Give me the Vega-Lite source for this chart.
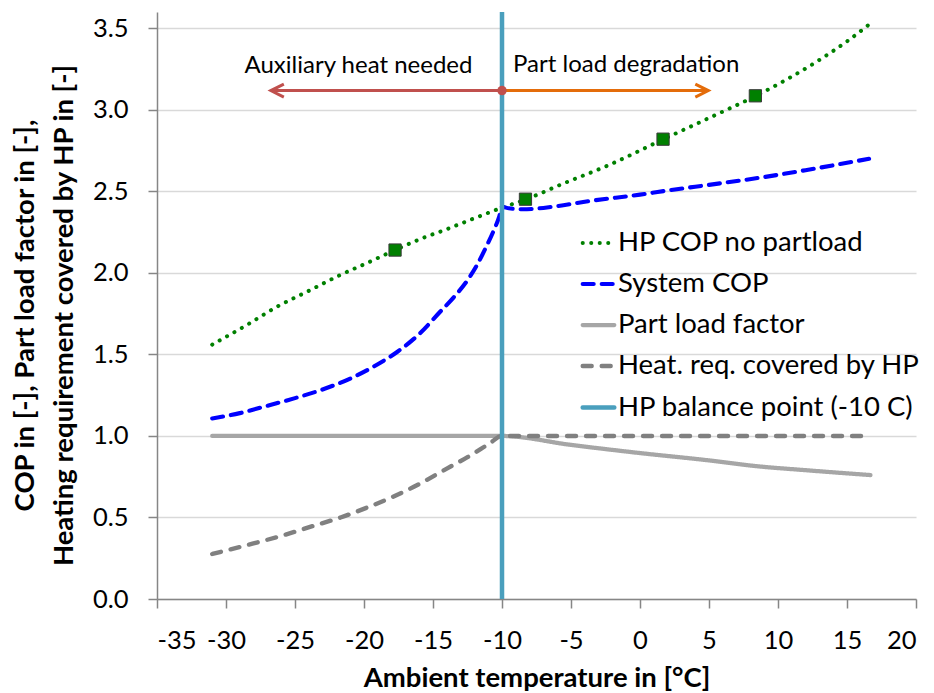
{
  "$schema": "https://vega.github.io/schema/vega-lite/v6.json",
  "width": 759,
  "height": 587,
  "autosize": {"type": "none"},
  "padding": {"left": 157, "top": 12, "right": 18, "bottom": 94},
  "background": "white",
  "config": {
    "view": {"stroke": null},
    "font": "Lato",
    "axis": {
      "domainColor": "#868686",
      "domainWidth": 1.5,
      "tickColor": "#868686",
      "tickWidth": 1.5,
      "tickSize": 9,
      "labelFont": "Lato",
      "labelFontSize": 25.5,
      "labelColor": "#000000",
      "labelPadding": 20,
      "titleFont": "Lato",
      "titleFontSize": 27.5,
      "titleFontWeight": "bold",
      "titleColor": "#000000"
    }
  },
  "datasets": {
    "curves": [
      {"series": "HP COP no partload", "t": -31, "v": 1.56},
      {"series": "HP COP no partload", "t": -28.5, "v": 1.68},
      {"series": "HP COP no partload", "t": -26.25, "v": 1.795},
      {"series": "HP COP no partload", "t": -24, "v": 1.89},
      {"series": "HP COP no partload", "t": -21.9, "v": 1.98},
      {"series": "HP COP no partload", "t": -19.8, "v": 2.06},
      {"series": "HP COP no partload", "t": -17.75, "v": 2.14},
      {"series": "HP COP no partload", "t": -16, "v": 2.205},
      {"series": "HP COP no partload", "t": -14.1, "v": 2.265},
      {"series": "HP COP no partload", "t": -12, "v": 2.335},
      {"series": "HP COP no partload", "t": -10, "v": 2.4},
      {"series": "HP COP no partload", "t": -8.3, "v": 2.45},
      {"series": "HP COP no partload", "t": -5.5, "v": 2.55},
      {"series": "HP COP no partload", "t": -2.4, "v": 2.656},
      {"series": "HP COP no partload", "t": 1.7, "v": 2.82},
      {"series": "HP COP no partload", "t": 5, "v": 2.95},
      {"series": "HP COP no partload", "t": 8.4, "v": 3.086},
      {"series": "HP COP no partload", "t": 10.5, "v": 3.18},
      {"series": "HP COP no partload", "t": 12.7, "v": 3.29},
      {"series": "HP COP no partload", "t": 15, "v": 3.42},
      {"series": "HP COP no partload", "t": 16.7, "v": 3.53},

      {"series": "System COP", "t": -31, "v": 1.107},
      {"series": "System COP", "t": -29, "v": 1.14},
      {"series": "System COP", "t": -27, "v": 1.185},
      {"series": "System COP", "t": -25, "v": 1.232},
      {"series": "System COP", "t": -23, "v": 1.285},
      {"series": "System COP", "t": -21, "v": 1.352},
      {"series": "System COP", "t": -19, "v": 1.44},
      {"series": "System COP", "t": -17.6, "v": 1.515},
      {"series": "System COP", "t": -16, "v": 1.625},
      {"series": "System COP", "t": -14.5, "v": 1.76},
      {"series": "System COP", "t": -13.5, "v": 1.85},
      {"series": "System COP", "t": -12.5, "v": 1.955},
      {"series": "System COP", "t": -11.8, "v": 2.05},
      {"series": "System COP", "t": -11.2, "v": 2.15},
      {"series": "System COP", "t": -10.6, "v": 2.26},
      {"series": "System COP", "t": -10.2, "v": 2.345},
      {"series": "System COP", "t": -10, "v": 2.405},
      {"series": "System COP", "t": -9.5, "v": 2.396},
      {"series": "System COP", "t": -8.5, "v": 2.39},
      {"series": "System COP", "t": -6.3, "v": 2.406},
      {"series": "System COP", "t": -3.7, "v": 2.44},
      {"series": "System COP", "t": 0, "v": 2.48},
      {"series": "System COP", "t": 2.4, "v": 2.51},
      {"series": "System COP", "t": 5, "v": 2.54},
      {"series": "System COP", "t": 8.4, "v": 2.58},
      {"series": "System COP", "t": 12, "v": 2.63},
      {"series": "System COP", "t": 16.6, "v": 2.7},

      {"series": "Part load factor", "t": -31, "v": 1.0},
      {"series": "Part load factor", "t": -10, "v": 1.0},
      {"series": "Part load factor", "t": -5, "v": 0.945},
      {"series": "Part load factor", "t": 0, "v": 0.895},
      {"series": "Part load factor", "t": 5, "v": 0.85},
      {"series": "Part load factor", "t": 8.4, "v": 0.815},
      {"series": "Part load factor", "t": 12, "v": 0.79},
      {"series": "Part load factor", "t": 16.7, "v": 0.76},

      {"series": "Heat. req. covered by HP", "t": -31, "v": 0.276},
      {"series": "Heat. req. covered by HP", "t": -28.5, "v": 0.33},
      {"series": "Heat. req. covered by HP", "t": -25.8, "v": 0.392},
      {"series": "Heat. req. covered by HP", "t": -23.8, "v": 0.445},
      {"series": "Heat. req. covered by HP", "t": -21.7, "v": 0.5},
      {"series": "Heat. req. covered by HP", "t": -19.8, "v": 0.56},
      {"series": "Heat. req. covered by HP", "t": -17.9, "v": 0.627},
      {"series": "Heat. req. covered by HP", "t": -16, "v": 0.705},
      {"series": "Heat. req. covered by HP", "t": -14, "v": 0.8},
      {"series": "Heat. req. covered by HP", "t": -12.5, "v": 0.87},
      {"series": "Heat. req. covered by HP", "t": -10.9, "v": 0.954},
      {"series": "Heat. req. covered by HP", "t": -10, "v": 1.0},
      {"series": "Heat. req. covered by HP", "t": 16.7, "v": 1.0}
    ],
    "balance": [
      {"series": "HP balance point (-10 C)", "t": -10, "v": 0},
      {"series": "HP balance point (-10 C)", "t": -10, "v": 3.6}
    ],
    "markers": [
      {"t": -17.75, "v": 2.14},
      {"t": -8.3, "v": 2.452},
      {"t": 1.67, "v": 2.82},
      {"t": 8.36, "v": 3.086}
    ],
    "arrows": [
      {"side": "left", "t": -10, "t2": -26.75, "v": 3.118},
      {"side": "right", "t": -10, "t2": 4.95, "v": 3.118}
    ],
    "notes": [
      {"label": "Auxiliary heat needed", "t": -20.4, "v": 3.227},
      {"label": "Part load degradation", "t": -1.0, "v": 3.235}
    ]
  },
  "layer": [
    {
      "data": {"name": "curves"},
      "mark": {"type": "line", "interpolate": "monotone", "strokeCap": "round", "strokeJoin": "round"},
      "encoding": {
        "x": {
          "field": "t", "type": "quantitative",
          "scale": {"domain": [-35, 20], "nice": false, "zero": false},
          "axis": {
            "title": "Ambient temperature in [°C]",
            "values": [-35, -30, -25, -20, -15, -10, -5, 0, 5, 10, 15, 20],
            "labelExpr": "replace(datum.label, '\u2212', '-')",
            "grid": false,
            "titleBaseline": "alphabetic",
            "titleY": 87
          }
        },
        "y": {
          "field": "v", "type": "quantitative",
          "scale": {"domain": [0, 3.6], "nice": false},
          "axis": {
            "title": ["COP in [-], Part load factor in [-],", "Heating requirement covered by HP in [-]"],
            "values": [0, 0.5, 1, 1.5, 2, 2.5, 3, 3.5],
            "format": ".1f",
            "grid": true,
            "gridColor": "#d9d9d9",
            "gridWidth": 1.3,
            "titleAngle": 270,
            "titleAlign": "center",
            "titleBaseline": "top",
            "titleLineHeight": 39,
            "titleX": -146,
            "titleY": 303
          }
        },
        "color": {
          "field": "series", "type": "nominal",
          "scale": {
            "domain": ["HP COP no partload", "System COP", "Part load factor", "Heat. req. covered by HP", "HP balance point (-10 C)"],
            "range": ["#008000", "#0000ff", "#a6a6a6", "#808080", "#4a9fbd"]
          },
          "legend": {
            "orient": "none",
            "legendX": 423,
            "legendY": 213,
            "title": null,
            "symbolType": "stroke",
            "symbolSize": 1000,
            "labelFont": "Lato",
            "labelFontSize": 27.5,
            "labelColor": "#000000",
            "labelOffset": 1,
            "labelLimit": 0,
            "rowPadding": 9,
            "padding": 0,
            "encode": {"symbols": {"update": {"strokeCap": {"value": "round"}}}}
          }
        },
        "strokeDash": {
          "field": "series", "type": "nominal",
          "scale": {
            "domain": ["HP COP no partload", "System COP", "Part load factor", "Heat. req. covered by HP", "HP balance point (-10 C)"],
            "range": [[0.1, 8.4], [11, 8], [1, 0], [9, 10], [1, 0]]
          }
        },
        "strokeWidth": {
          "field": "series", "type": "nominal",
          "scale": {
            "domain": ["HP COP no partload", "System COP", "Part load factor", "Heat. req. covered by HP", "HP balance point (-10 C)"],
            "range": [4, 4.5, 4.5, 4.5, 3]
          }
        }
      }
    },
    {
      "data": {"name": "markers"},
      "mark": {"type": "point", "shape": "square", "size": 150, "filled": true, "fill": "#008000", "stroke": "#3a3a3a", "strokeWidth": 1, "opacity": 1},
      "encoding": {
        "x": {"field": "t", "type": "quantitative"},
        "y": {"field": "v", "type": "quantitative"}
      }
    },
    {
      "data": {"name": "balance"},
      "mark": {"type": "line", "strokeCap": "butt"},
      "encoding": {
        "x": {"field": "t", "type": "quantitative"},
        "y": {"field": "v", "type": "quantitative"},
        "color": {"field": "series", "type": "nominal"},
        "strokeDash": {"field": "series", "type": "nominal"},
        "strokeWidth": {"field": "series", "type": "nominal"}
      }
    },
    {
      "data": {"name": "arrows"},
      "transform": [{"filter": "datum.side === 'left'"}],
      "layer": [
        {
          "mark": {"type": "rule", "color": "#c0504d", "strokeWidth": 3},
          "encoding": {
            "x": {"field": "t", "type": "quantitative"},
            "x2": {"field": "t2"},
            "y": {"field": "v", "type": "quantitative"}
          }
        },
        {
          "mark": {"type": "point", "shape": "M2,-1L0,0L2,1", "size": 169, "filled": false, "stroke": "#c0504d", "strokeWidth": 3, "opacity": 1},
          "encoding": {
            "x": {"field": "t2", "type": "quantitative"},
            "y": {"field": "v", "type": "quantitative"}
          }
        }
      ]
    },
    {
      "data": {"name": "arrows"},
      "transform": [{"filter": "datum.side === 'right'"}],
      "layer": [
        {
          "mark": {"type": "rule", "color": "#e46c0a", "strokeWidth": 3},
          "encoding": {
            "x": {"field": "t", "type": "quantitative"},
            "x2": {"field": "t2"},
            "y": {"field": "v", "type": "quantitative"}
          }
        },
        {
          "mark": {"type": "point", "shape": "M-2,-1L0,0L-2,1", "size": 169, "filled": false, "stroke": "#e46c0a", "strokeWidth": 3, "opacity": 1},
          "encoding": {
            "x": {"field": "t2", "type": "quantitative"},
            "y": {"field": "v", "type": "quantitative"}
          }
        }
      ]
    },
    {
      "data": {"name": "arrows"},
      "transform": [{"filter": "datum.side === 'left'"}],
      "mark": {"type": "point", "shape": "circle", "size": 90, "filled": true, "fill": "#c0504d", "opacity": 1},
      "encoding": {
        "x": {"field": "t", "type": "quantitative"},
        "y": {"field": "v", "type": "quantitative"}
      }
    },
    {
      "data": {"name": "notes"},
      "mark": {"type": "text", "font": "Lato", "fontSize": 24, "align": "center", "baseline": "alphabetic", "color": "#000000"},
      "encoding": {
        "x": {"field": "t", "type": "quantitative"},
        "y": {"field": "v", "type": "quantitative"},
        "text": {"field": "label"}
      }
    }
  ]
}
